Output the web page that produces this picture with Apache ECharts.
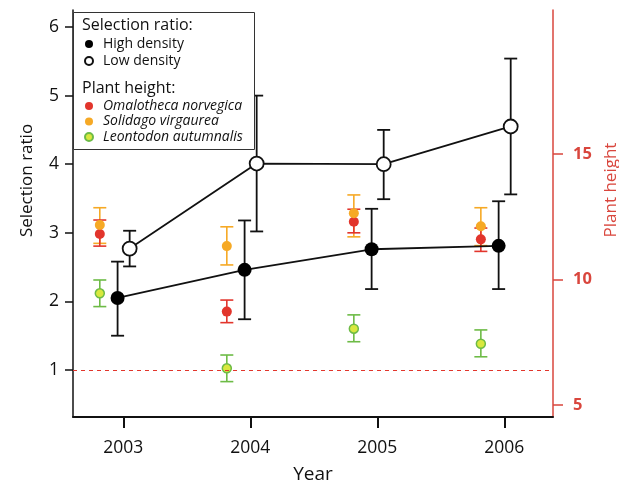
<!DOCTYPE html>
<html>
<head>
<meta charset="utf-8">
<script src="https://cdn.jsdelivr.net/npm/echarts@6/dist/echarts.min.js"></script>
<style>
html,body{margin:0;padding:0;background:#fff;}
#chart{width:619px;height:480px;}
</style>
</head>
<body>
<div id="chart"></div>
<script>
// ---- data ----
const years = [2003, 2004, 2005, 2006];

// Selection ratio (left axis)
const highDensity = [2.05, 2.46, 2.76, 2.81];
const highLow     = [1.50, 1.74, 2.18, 2.18];
const highHigh    = [2.58, 3.18, 3.35, 3.46];

const lowDensity  = [2.77, 4.01, 4.00, 4.55];
const lowLow      = [2.51, 3.02, 3.49, 3.56];
const lowHigh     = [3.03, 5.00, 4.50, 5.54];

// Plant height (right axis)
const omalotheca     = [11.81, 8.72, 12.30, 11.60];
const omalothecaLow  = [11.33, 8.28, 11.86, 11.12];
const omalothecaHigh = [12.37, 9.18, 12.80, 12.05];

const solidago     = [12.17, 11.33, 12.64, 12.12];
const solidagoLow  = [11.44, 10.58, 11.70, 11.35];
const solidagoHigh = [12.86, 12.10, 13.37, 12.86];

const leontodon     = [9.45, 6.46, 8.04, 7.44];
const leontodonLow  = [8.92, 5.93, 7.52, 6.92];
const leontodonHigh = [9.98, 6.99, 8.59, 7.99];

const leftTicks  = [1, 2, 3, 4, 5, 6];
const rightTicks = [5, 10, 15];
const referenceLine = 1;

// ---- styling / layout ----
const FONT = 'Open Sans';
const RED_AXIS = '#d9463d';
const C_RED = '#e2352c';
const C_ORANGE = '#f6a925';
const C_GREEN = '#6dbb46';
const C_GREEN_FILL = '#d9e83e';

const OFF_PLANT = -0.185, OFF_HIGH = -0.045, OFF_LOW = 0.05;

function pts(vals, off) { return years.map((y, i) => [y + off, vals[i]]); }
function bars(lo, hi, off) { return years.map((y, i) => [y + off, lo[i], hi[i]]); }

function errorSeries(name, lo, hi, off, color, yAxisIndex, lw) {
  return {
    type: 'custom',
    name: name,
    yAxisIndex: yAxisIndex,
    silent: true,
    z: 2,
    data: bars(lo, hi, off),
    renderItem: function (params, api) {
      const x = api.value(0);
      const p1 = api.coord([x, api.value(1)]);
      const p2 = api.coord([x, api.value(2)]);
      const hw = 6.5;
      const st = { stroke: color, lineWidth: lw };
      return {
        type: 'group',
        children: [
          { type: 'line', shape: { x1: p1[0], y1: p1[1], x2: p2[0], y2: p2[1] }, style: st },
          { type: 'line', shape: { x1: p1[0] - hw, y1: p1[1], x2: p1[0] + hw, y2: p1[1] }, style: st },
          { type: 'line', shape: { x1: p2[0] - hw, y1: p2[1], x2: p2[0] + hw, y2: p2[1] }, style: st }
        ]
      };
    }
  };
}

const chart = echarts.init(document.getElementById('chart'), null, { renderer: 'canvas' });

const dashStyle = { color: C_RED, type: [4, 4], width: 1, opacity: 1 };

const option = {
  animation: false,
  backgroundColor: '#fff',
  textStyle: { fontFamily: FONT },
  grid: { left: 73, right: 66, top: 10, bottom: 63, containLabel: false, outerBoundsMode: 'none' },
  xAxis: {
    type: 'value',
    min: 2002.604,
    max: 2006.383,
    name: 'Year',
    nameLocation: 'middle',
    nameGap: 48,
    nameTextStyle: { fontSize: 19, color: '#111', fontFamily: FONT },
    splitLine: { show: false },
    axisLine: { lineStyle: { color: '#111', width: 2 } },
    axisTick: { show: true, length: 11, customValues: years, lineStyle: { color: '#111', width: 2 } },
    axisLabel: {
      customValues: years, margin: 22, fontSize: 17.5, color: '#111', fontFamily: FONT,
      formatter: function (v) { return String(Math.round(v)); }
    }
  },
  yAxis: [
    {
      type: 'value',
      position: 'left',
      min: 0.315,
      max: 6.248,
      name: 'Selection ratio',
      nameLocation: 'middle',
      nameRotate: 90,
      nameGap: 37,
      nameTextStyle: { fontSize: 17, color: '#111', fontFamily: FONT, padding: [0, 0, 0, 66] },
      splitLine: { show: false },
      axisLine: { show: true, lineStyle: { color: '#111', width: 1.5 } },
      axisTick: { show: true, length: 8, customValues: leftTicks, lineStyle: { color: '#111', width: 1.5 } },
      axisLabel: { customValues: leftTicks, margin: 14, fontSize: 17.5, color: '#111', fontFamily: FONT }
    },
    {
      type: 'value',
      position: 'right',
      min: 4.52,
      max: 20.74,
      name: 'Plant height',
      nameLocation: 'middle',
      nameRotate: 90,
      nameGap: 39,
      nameTextStyle: { fontSize: 17, color: RED_AXIS, fontFamily: FONT, padding: [0, 0, 0, 47] },
      splitLine: { show: false },
      axisLine: { show: true, lineStyle: { color: RED_AXIS, width: 1.5 } },
      axisTick: { show: true, length: 10, customValues: rightTicks, lineStyle: { color: RED_AXIS, width: 1.5 } },
      axisLabel: { customValues: rightTicks, margin: 20, fontSize: 16.5, fontWeight: 'bold', color: RED_AXIS, fontFamily: FONT }
    }
  ],
  legend: [
    {
      orient: 'vertical', left: 84, top: 37, padding: 0,
      itemWidth: 8, itemHeight: 8, itemGap: 3, icon: 'circle',
      data: ['High density', 'Low density'],
      textStyle: { fontSize: 14, lineHeight: 14, color: '#111', fontFamily: FONT, padding: [0, 0, 0, 5] },
      z: 10
    },
    {
      orient: 'vertical', left: 84, top: 99, padding: 0,
      itemWidth: 8, itemHeight: 8, itemGap: 1.5, icon: 'circle',
      data: ['Omalotheca norvegica', 'Solidago virgaurea', 'Leontodon autumnalis'],
      textStyle: { fontSize: 14, lineHeight: 14, fontStyle: 'italic', color: '#111', fontFamily: FONT, padding: [0, 0, 0, 5] },
      z: 10
    }
  ],
  graphic: [
    { type: 'rect', z: 8, shape: { x: 73.5, y: 12.5, width: 181, height: 137 },
      style: { fill: '#fff', stroke: '#333', lineWidth: 1 } },
    { type: 'text', z: 9, x: 82, y: 25,
      style: { text: 'Selection ratio:', font: '16px "Open Sans"', fill: '#111', textVerticalAlign: 'middle' } },
    { type: 'text', z: 9, x: 82, y: 88,
      style: { text: 'Plant height:', font: '16px "Open Sans"', fill: '#111', textVerticalAlign: 'middle' } }
  ],
  series: [
    errorSeries('eb-high', highLow, highHigh, OFF_HIGH, '#111', 0, 1.8),
    errorSeries('eb-low', lowLow, lowHigh, OFF_LOW, '#111', 0, 1.8),
    errorSeries('eb-leo', leontodonLow, leontodonHigh, OFF_PLANT, C_GREEN, 1, 1.6),
    errorSeries('eb-sol', solidagoLow, solidagoHigh, OFF_PLANT, C_ORANGE, 1, 1.6),
    errorSeries('eb-oma', omalothecaLow, omalothecaHigh, OFF_PLANT, C_RED, 1, 1.6),
    {
      type: 'line', name: 'High density', yAxisIndex: 0, z: 3,
      data: pts(highDensity, OFF_HIGH),
      symbol: 'circle', symbolSize: 14,
      lineStyle: { color: '#111', width: 1.8 },
      itemStyle: { color: '#000' },
      markLine: {
        silent: true, symbol: 'none', label: { show: false },
        lineStyle: dashStyle,
        emphasis: { disabled: true },
        data: [{ yAxis: referenceLine, lineStyle: dashStyle }]
      }
    },
    {
      type: 'line', name: 'Low density', yAxisIndex: 0, z: 3,
      data: pts(lowDensity, OFF_LOW),
      symbol: 'circle', symbolSize: 14,
      lineStyle: { color: '#111', width: 1.8 },
      itemStyle: { color: '#fff', borderColor: '#111', borderWidth: 1.8 }
    },
    {
      type: 'scatter', name: 'Omalotheca norvegica', yAxisIndex: 1, z: 4,
      data: pts(omalotheca, OFF_PLANT), symbol: 'circle', symbolSize: 10,
      itemStyle: { color: C_RED, opacity: 1 }
    },
    {
      type: 'scatter', name: 'Solidago virgaurea', yAxisIndex: 1, z: 4,
      data: pts(solidago, OFF_PLANT), symbol: 'circle', symbolSize: 10,
      itemStyle: { color: C_ORANGE, opacity: 1 }
    },
    {
      type: 'scatter', name: 'Leontodon autumnalis', yAxisIndex: 1, z: 4,
      data: pts(leontodon, OFF_PLANT), symbol: 'circle', symbolSize: 9,
      itemStyle: { color: C_GREEN_FILL, borderColor: C_GREEN, borderWidth: 1.5, opacity: 1 }
    }
  ]
};

chart.setOption(option);
</script>
</body>
</html>
